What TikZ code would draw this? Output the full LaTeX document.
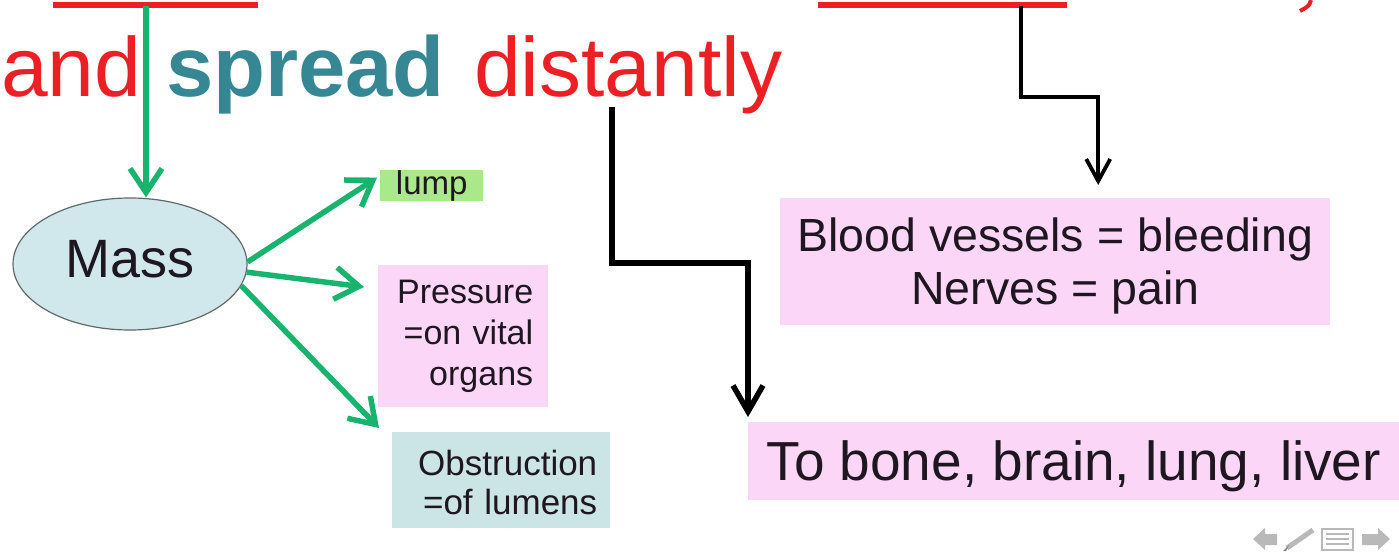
\documentclass[tikz,border=0pt]{standalone}
\usepackage{fontspec}
\setmainfont{Liberation Sans}
\usetikzlibrary{arrows.meta,shapes.geometric,calc}
\definecolor{titlered}{RGB}{236,32,36}
\definecolor{spreadteal}{RGB}{52,135,147}
\definecolor{arrowgreen}{RGB}{24,180,110}
\definecolor{massfill}{RGB}{208,232,236}
\definecolor{massdraw}{RGB}{95,105,105}
\definecolor{lumpfill}{RGB}{170,232,140}
\definecolor{pinkfill}{RGB}{251,214,246}
\definecolor{tealfill}{RGB}{203,229,231}
\definecolor{inkcol}{RGB}{30,22,32}
\definecolor{navgray}{RGB}{185,185,185}
\begin{document}
\begin{tikzpicture}[x=1pt,y=-1pt,
  titletext/.style={inner sep=0pt, anchor=base west, font=\fontsize{84}{100}\selectfont},
  infobox/.style={inner sep=0pt, text=inkcol, anchor=north west},
  greenarrow/.style={draw=arrowgreen, line width=5.5pt, -{Straight Barb[length=24pt,width=32pt]}},
  blackarrowA/.style={draw=black, line width=5.5pt, -{Straight Barb[length=26pt,width=30pt]}},
  blackarrowB/.style={draw=black, line width=3.8pt, -{Straight Barb[length=22pt,width=24pt]}},
  underline/.style={draw=titlered, line width=6pt}
]
\useasboundingbox (0,0) rectangle (1399,556);

% red underlines of the (cut-off) line above
\draw[underline] (53,5.5) -- (258,5.5);
\draw[underline] (818,5.5) -- (1067,5.5);
\draw[titlered, line width=4pt] (1311,0) .. controls (1309,6) .. (1300,11);
\coordinate (u1) at (146,6);
\coordinate (u2) at (1021,6);

% title line
\node[titletext, text=titlered] (and) at (1,97) {and};
\node[titletext, text=spreadteal, font=\fontsize{85}{100}\selectfont\bfseries] (spread) at (166,97) {spread};
\node[titletext, text=titlered] (distantly) at (474,97) {distantly};
\coordinate (d1) at (612,107);

% mass ellipse
\node[ellipse, draw=massdraw, fill=massfill, line width=1.2pt, minimum width=234pt, minimum height=132pt,
      inner sep=0pt, text=inkcol, text depth=10pt, font=\fontsize{54}{60}\selectfont] (mass) at (130,264) {Mass};

% boxes
\node[infobox, fill=lumpfill, minimum width=103pt, minimum height=29pt,
      font=\fontsize{33}{38}\selectfont] (lump) at (380,170) {lump};
\node[infobox, fill=pinkfill, minimum width=170pt, minimum height=142pt, text width=140pt, align=right,
      font=\fontsize{34}{41}\selectfont] (press) at (378,265) {Pressure\\=on vital\\organs};
\node[infobox, fill=tealfill, minimum width=218pt, minimum height=96pt, text width=192pt, align=right,
      font=\fontsize{35}{39}\selectfont] (obs) at (392,432) {\rule{0pt}{29pt}Obstruction\\=of lumens};
\node[infobox, fill=pinkfill, minimum width=550pt, minimum height=127pt, align=center,
      font=\fontsize{46.5}{53}\selectfont] (blood) at (780,198) {\rule{0pt}{43pt}Blood vessels = bleeding\\Nerves = pain};
\node[infobox, fill=pinkfill, minimum width=651pt, minimum height=78pt, text height=40pt, text depth=2pt,
      font=\fontsize{55}{60}\selectfont] (tobox) at (748,422) {To bone, brain, lung, liver};

% green connectors
\draw[greenarrow] (u1) -- (u1 |- mass.north);
\draw[greenarrow] (mass.1) -- ([xshift=-3pt,yshift=8pt]lump.west);
\draw[greenarrow] (mass.-4) -- ([xshift=-14pt,yshift=-22pt]press.north west);
\draw[greenarrow] (mass.-11) -- ([xshift=-13pt,yshift=4pt]obs.north west);

% black connectors
\draw[blackarrowA] (d1) -- ++(0,156) -| ([yshift=5pt]tobox.north west);
\draw[blackarrowB] (u2) -- ++(0,91) -| ([xshift=43pt,yshift=13pt]blood.north);

% navigation icons
\fill[navgray] (1253,539) -- (1265,528) -- (1265,534) -- (1277,534) -- (1277,545) -- (1265,545) -- (1265,550) -- cycle;
\draw[navgray, line width=5pt] (1287,548) -- (1313,530);
\fill[gray] (1283,551) -- (1289,545) -- (1286,551) -- cycle;
\draw[navgray, line width=1.5pt, fill=white] (1322,529) rectangle (1353,550);
\foreach \yy in {534,539,544} \draw[navgray, line width=1.5pt] (1326,\yy) -- (1349,\yy);
\fill[navgray] (1390,539) -- (1378,528) -- (1378,534) -- (1362,534) -- (1362,545) -- (1378,545) -- (1378,550) -- cycle;
\end{tikzpicture}
\end{document}
